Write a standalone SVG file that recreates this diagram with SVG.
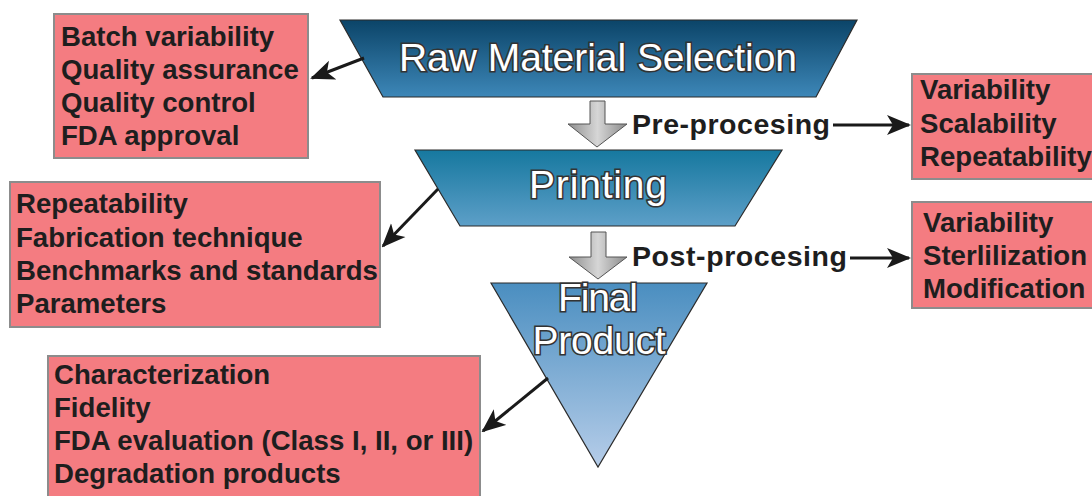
<svg xmlns="http://www.w3.org/2000/svg" width="1092" height="496" viewBox="0 0 1092 496">
<defs>
<linearGradient id="g1" x1="0" y1="0" x2="0" y2="1"><stop offset="0" stop-color="#0b4468"/><stop offset="1" stop-color="#3d87b8"/></linearGradient>
<linearGradient id="g2" x1="0" y1="0" x2="0" y2="1"><stop offset="0" stop-color="#16789f"/><stop offset="1" stop-color="#5d9fc8"/></linearGradient>
<linearGradient id="g3" x1="0" y1="0" x2="0" y2="1"><stop offset="0" stop-color="#4a8ec0"/><stop offset="1" stop-color="#b6cde9"/></linearGradient>
<linearGradient id="gg" x1="0" y1="0" x2="1" y2="0"><stop offset="0" stop-color="#8e8e8e"/><stop offset="0.5" stop-color="#d6d6d6"/><stop offset="1" stop-color="#8a8a8a"/></linearGradient>
<marker id="ah" viewBox="0 0 12 10" refX="11" refY="5" markerWidth="8" markerHeight="7" orient="auto" markerUnits="strokeWidth">
<path d="M0,0 L12,5 L0,10 L3,5 z" fill="#1a1a1a"/>
</marker>
<style>
.shape{stroke:#2b2b2b;stroke-width:1.2}
.title{font-family:"Liberation Sans",Arial,sans-serif;font-size:39px;fill:#fff;stroke:#333;stroke-width:3.2;paint-order:stroke;text-anchor:middle}
.box{fill:#f47c81;stroke:#8c8c8c;stroke-width:2}
.lbl{font-family:"Liberation Sans",Arial,sans-serif;font-weight:bold;font-size:27.6px;fill:#1e1e1e}
.proc{font-family:"Liberation Sans",Arial,sans-serif;font-weight:bold;font-size:28.5px;fill:#1e1e1e}
.con{stroke:#1a1a1a;stroke-width:3;fill:none;marker-end:url(#ah)}
.garrow{fill:url(#gg);stroke:#555;stroke-width:1}
</style>
</defs>
<rect width="1092" height="496" fill="#fff"/>

<g id="raw-material-selection">
<polygon class="shape" points="340,20 857,20 816,97 383,97" fill="url(#g1)"/>
<text class="title" x="598" y="71" textLength="398">Raw Material Selection</text>
</g>

<g id="printing">
<polygon class="shape" points="415,150 782,150 735,226 460,226" fill="url(#g2)"/>
<text class="title" x="598" y="198" textLength="138">Printing</text>
</g>

<g id="final-product">
<polygon class="shape" points="491,283 707,283 598,467" fill="url(#g3)"/>
<text class="title" x="598" y="311" textLength="80">Final</text>
<text class="title" x="599" y="354" textLength="133">Product</text>
</g>

<g id="step-arrow-1">
<polygon class="garrow" points="590,101 605,101 605,124 627,124 597,147 568,124 590,124"/>
</g>
<g id="step-arrow-2">
<polygon class="garrow" points="591,232 606,232 606,257 627,257 598,279 569,257 591,257"/>
</g>

<g id="pre-processing-label">
<text class="proc" x="632" y="134" textLength="198">Pre-procesing</text>
</g>
<g id="post-processing-label">
<text class="proc" x="632" y="266" textLength="215">Post-procesing</text>
</g>

<g id="box-raw">
<rect class="box" x="54" y="14" width="254" height="144"/>
<text class="lbl" x="61" y="46">Batch variability</text>
<text class="lbl" x="61" y="79">Quality assurance</text>
<text class="lbl" x="61" y="112">Quality control</text>
<text class="lbl" x="61" y="145">FDA approval</text>
</g>

<g id="box-printing">
<rect class="box" x="10" y="182" width="370" height="145"/>
<text class="lbl" x="16" y="213">Repeatability</text>
<text class="lbl" x="16" y="247">Fabrication technique</text>
<text class="lbl" x="16" y="280">Benchmarks and standards</text>
<text class="lbl" x="16" y="313">Parameters</text>
</g>

<g id="box-final">
<rect class="box" x="48" y="356" width="432" height="145"/>
<text class="lbl" x="54" y="384">Characterization</text>
<text class="lbl" x="54" y="417">Fidelity</text>
<text class="lbl" x="54" y="450">FDA evaluation (Class I, II, or III)</text>
<text class="lbl" x="54" y="483">Degradation products</text>
</g>

<g id="box-pre">
<rect class="box" x="912" y="74" width="190" height="105"/>
<text class="lbl" x="920" y="99">Variability</text>
<text class="lbl" x="920" y="133">Scalability</text>
<text class="lbl" x="920" y="166">Repeatability</text>
</g>

<g id="box-post">
<rect class="box" x="912" y="202" width="190" height="106"/>
<text class="lbl" x="923" y="232">Variability</text>
<text class="lbl" x="923" y="265">Sterlilization</text>
<text class="lbl" x="923" y="298">Modification</text>
</g>

<g id="connectors">
<line class="con" x1="364" y1="58" x2="312" y2="78"/>
<line class="con" x1="438" y1="189" x2="383" y2="246"/>
<line class="con" x1="548" y1="378" x2="483" y2="431"/>
<line class="con" x1="833" y1="125" x2="909" y2="125"/>
<line class="con" x1="850" y1="258" x2="909" y2="258"/>
</g>
</svg>
